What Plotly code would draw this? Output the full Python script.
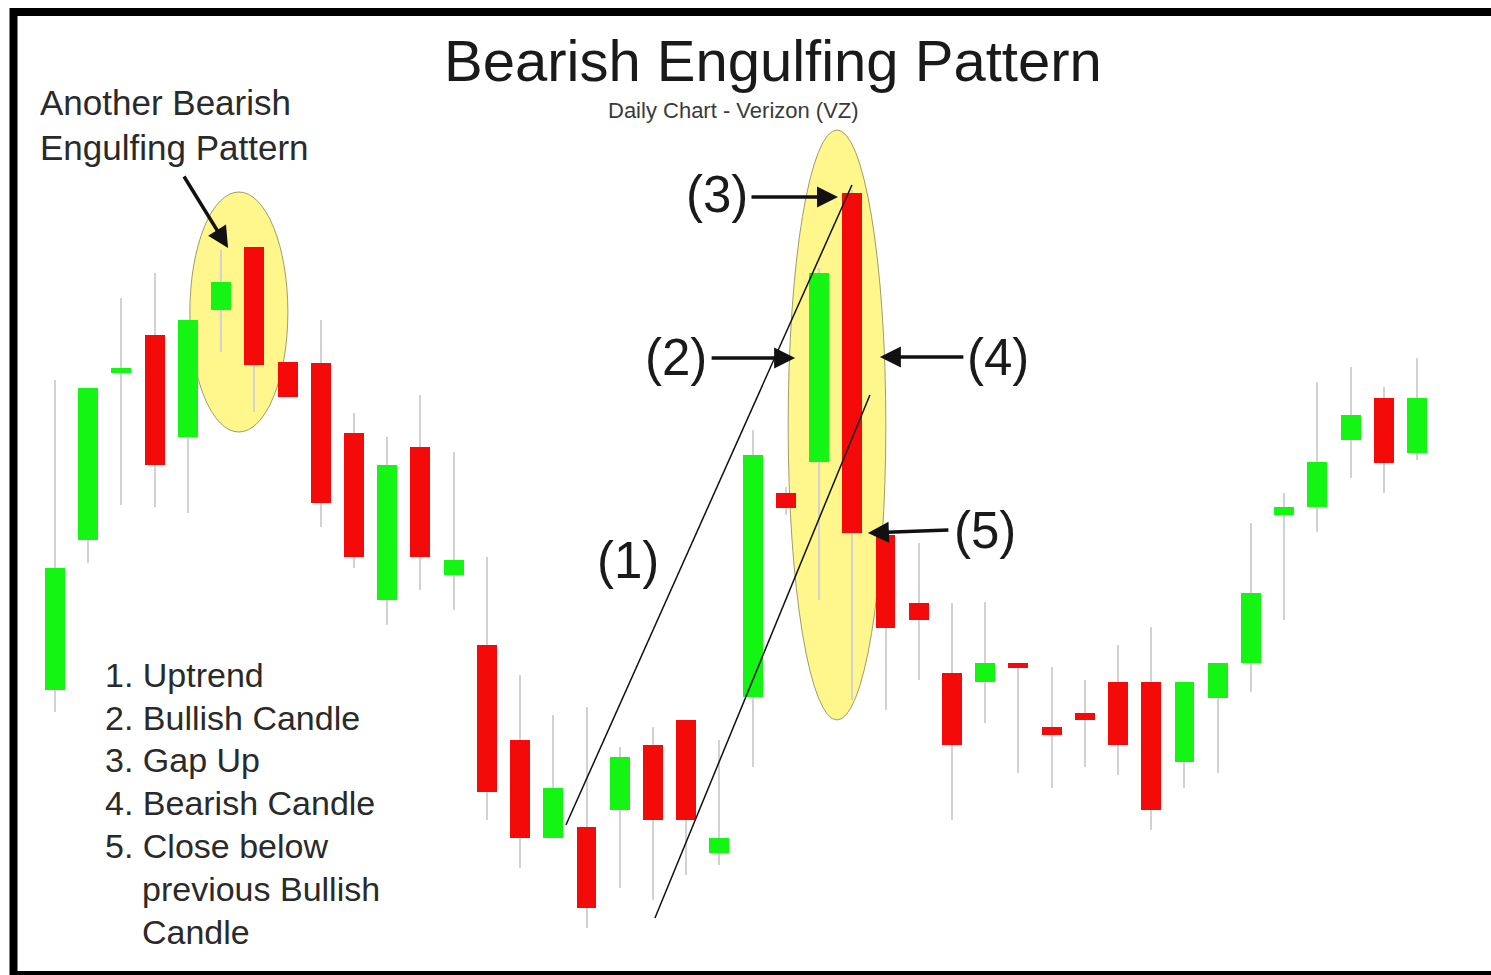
import plotly.graph_objects as go

# candle data (index along the day axis, arbitrary price units)
opens = [31.0, 46.0, 62.7, 66.5, 56.3, 69.0, 75.3, 63.8, 63.7, 56.7, 40.0, 55.3, 42.5,
         35.5, 26.0, 16.2, 17.3, 19.0, 25.5, 28.0, 14.7, 30.3, 50.7, 53.8, 80.7, 46.5,
         39.7, 32.7, 31.8, 33.7, 27.3, 28.7, 31.8, 31.8, 23.8, 30.2, 33.7, 48.5, 49.3,
         56.0, 60.2, 54.7]
highs = [62.0, 61.2, 70.2, 72.7, 68.0, 75.0, 75.3, 63.8, 68.0, 58.7, 56.3, 60.5, 54.8,
         44.3, 32.5, 28.5, 29.3, 25.3, 27.3, 28.0, 26.0, 57.0, 51.3, 73.2, 81.0, 46.5,
         45.7, 39.7, 39.8, 33.7, 33.3, 32.0, 35.5, 37.3, 31.8, 33.7, 47.7, 50.7, 61.8,
         63.3, 61.3, 64.2]
lows = [28.8, 43.7, 49.5, 49.3, 48.7, 64.8, 58.8, 60.3, 47.3, 43.2, 37.5, 41.0, 39.0,
        18.0, 13.2, 16.2, 7.2, 11.2, 10.0, 12.5, 13.5, 23.3, 48.5, 40.0, 30.0, 29.0,
        32.0, 18.0, 27.7, 22.7, 21.2, 23.3, 22.5, 17.0, 21.2, 22.7, 30.8, 38.0, 46.8,
        52.2, 50.7, 54.0]
closes = [43.2, 61.2, 63.2, 53.5, 68.0, 71.8, 63.5, 60.3, 49.7, 44.3, 53.5, 44.3, 44.0,
          20.8, 16.2, 21.2, 9.2, 24.3, 18.0, 18.0, 16.2, 54.5, 49.2, 72.7, 46.7, 37.2,
          38.0, 25.5, 33.7, 33.2, 26.5, 28.0, 25.5, 19.0, 31.8, 33.7, 40.7, 49.3, 53.8,
          58.5, 53.7, 60.2]
days = list(range(len(opens)))

list_lines = ["1. Uptrend", "2. Bullish Candle", "3. Gap Up", "4. Bearish Candle",
              "5. Close below"]
list_cont = ["previous Bullish", "Candle"]

W, H = 1491, 975
FONT = "Liberation Sans, Arial, sans-serif"
GREEN = "#14f514"
RED = "#f50a0a"


def px(x):
    return x / W


def py(y):
    return 1 - y / H


def label(txt, x, y, size, color="#1a1a1a", xanchor="center"):
    return dict(x=px(x), y=py(y), xref="paper", yref="paper", text=txt,
                xanchor=xanchor, yanchor="middle", showarrow=False,
                font=dict(size=size, color=color, family=FONT))


body_base = [min(o, c) for o, c in zip(opens, closes)]
body_len = [max(abs(c - o), 0.5) for o, c in zip(opens, closes)]
body_col = [GREEN if c >= o else RED for o, c in zip(opens, closes)]

fig = go.Figure()
# wicks
fig.add_trace(go.Bar(
    x=days, y=[h - l for h, l in zip(highs, lows)], base=lows,
    width=0.06, marker=dict(color="#d2d2d2", line=dict(width=0)),
    hoverinfo="skip", showlegend=False,
))
# bodies
fig.add_trace(go.Bar(
    x=days, y=body_len, base=body_base,
    width=0.6, marker=dict(color=body_col, line=dict(width=0)),
    showlegend=False,
))

shapes = [
    # highlight ellipses
    dict(type="circle", xref="x", yref="y", x0=4.06, x1=7.01, y0=56.8, y1=80.8,
         fillcolor="#fff78c", line=dict(color="#9d9d6a", width=1), layer="below"),
    dict(type="circle", xref="x", yref="y", x0=22.07, x1=25.01, y0=28.0, y1=87.0,
         fillcolor="#fff78c", line=dict(color="#9d9d6a", width=1), layer="below"),
    # uptrend channel lines
    dict(type="line", xref="x", yref="y", x0=15.38, y0=17.5, x1=23.99, y1=81.5,
         line=dict(color="#111", width=1.5)),
    dict(type="line", xref="x", yref="y", x0=18.06, y0=8.2, x1=24.53, y1=60.5,
         line=dict(color="#111", width=1.5)),
    # outer frame
    dict(type="rect", xref="paper", yref="paper", x0=px(13.5), x1=1.02, y0=0, y1=py(12),
         line=dict(color="black", width=8)),
]

annotations = []
# arrows: head in data coords, tail offset in pixels
for hx, hy, ax, ay in [(23.57, 80.3, -88, 0), (22.28, 64.2, -85, 0),
                       (24.83, 64.3, 85, 0), (24.47, 46.7, 82, -3),
                       (5.21, 75.2, -45, -73)]:
    annotations.append(dict(x=hx, y=hy, xref="x", yref="y", ax=ax, ay=ay, text="",
                            showarrow=True, arrowhead=2, arrowsize=1.2,
                            arrowwidth=3.5, arrowcolor="#111"))

for txt, x, y in [("(3)", 717, 195), ("(2)", 676, 357), ("(4)", 998, 357),
                  ("(5)", 985, 530), ("(1)", 628, 560)]:
    annotations.append(label(txt, x, y, 51))

annotations.append(label("Bearish Engulfing Pattern", 773, 60, 58))
annotations.append(label("Daily Chart - Verizon (VZ)", 733, 111, 22, color="#3a3a3a"))

for i, txt in enumerate(["Another Bearish", "Engulfing Pattern"]):
    annotations.append(label(txt, 38, 103 + 44 * i, 35, "#2a2a2a", "left"))

for i, txt in enumerate(list_lines):
    annotations.append(label(txt, 103, 675 + 42.7 * i, 34, "#2a2a2a", "left"))
for i, txt in enumerate(list_cont):
    annotations.append(label(txt, 140, 889 + 42.7 * i, 34, "#2a2a2a", "left"))

fig.update_layout(
    width=W, height=H,
    margin=dict(l=0, r=0, t=0, b=0, pad=0),
    paper_bgcolor="white", plot_bgcolor="white",
    barmode="overlay", bargap=0,
    shapes=shapes, annotations=annotations,
    xaxis=dict(range=[-55 / 33.22, -55 / 33.22 + W / 33.22], visible=False, fixedrange=True),
    yaxis=dict(range=[2.5, 100], visible=False, fixedrange=True),
    showlegend=False,
)

fig.write_html("out.html", config=dict(displayModeBar=False),
               post_script="document.body.style.margin='0';")
